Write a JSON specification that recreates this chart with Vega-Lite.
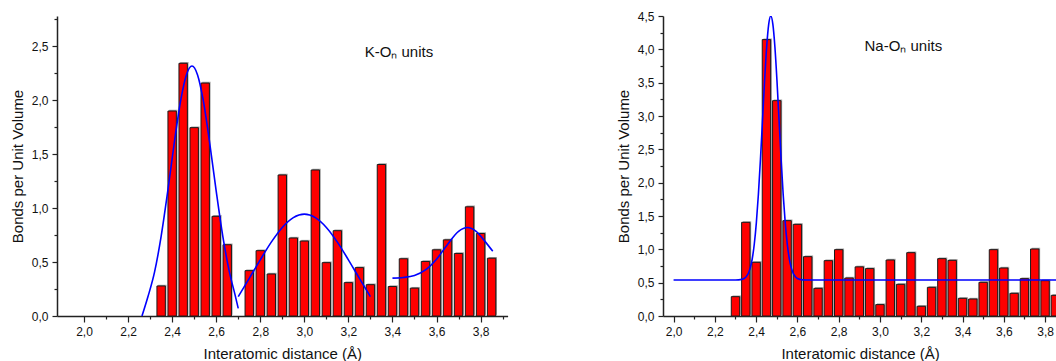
{
  "$schema": "https://vega.github.io/schema/vega-lite/v6.json",
  "autosize": {"type": "pad"},
  "padding": {"left": 10, "top": 10, "right": 0, "bottom": 0},
  "spacing": 108,
  "background": "white",
  "config": {
    "view": {"stroke": null},
    "font": "Liberation Sans",
    "axis": {
      "grid": false,
      "domainColor": "#222222",
      "domainWidth": 1.5,
      "tickColor": "#222222",
      "tickWidth": 1.2,
      "labelFont": "Liberation Sans",
      "labelFontSize": 12,
      "labelColor": "#111111",
      "labelPadding": 4,
      "labelFlush": false,
      "titleFont": "Liberation Sans",
      "titleFontSize": 15,
      "titleFontWeight": "normal",
      "titleColor": "#111111"
    }
  },
  "datasets": {
    "k_bars": [
      {"distance": 2.35, "bonds": 0.278}, {"distance": 2.40, "bonds": 1.898},
      {"distance": 2.45, "bonds": 2.34}, {"distance": 2.50, "bonds": 1.744},
      {"distance": 2.55, "bonds": 2.157}, {"distance": 2.60, "bonds": 0.923},
      {"distance": 2.65, "bonds": 0.66}, {"distance": 2.75, "bonds": 0.42},
      {"distance": 2.80, "bonds": 0.605}, {"distance": 2.85, "bonds": 0.389},
      {"distance": 2.90, "bonds": 1.306}, {"distance": 2.95, "bonds": 0.722},
      {"distance": 3.00, "bonds": 0.694}, {"distance": 3.05, "bonds": 1.352},
      {"distance": 3.10, "bonds": 0.494}, {"distance": 3.15, "bonds": 0.79},
      {"distance": 3.20, "bonds": 0.309}, {"distance": 3.25, "bonds": 0.448},
      {"distance": 3.30, "bonds": 0.29}, {"distance": 3.35, "bonds": 1.403},
      {"distance": 3.40, "bonds": 0.273}, {"distance": 3.45, "bonds": 0.53},
      {"distance": 3.50, "bonds": 0.258}, {"distance": 3.55, "bonds": 0.505},
      {"distance": 3.60, "bonds": 0.613}, {"distance": 3.65, "bonds": 0.705},
      {"distance": 3.70, "bonds": 0.579}, {"distance": 3.75, "bonds": 1.011},
      {"distance": 3.80, "bonds": 0.764}, {"distance": 3.85, "bonds": 0.535}
    ],
    "k_fit": [
      {"peak": "first", "distance": 2.263, "bonds": 0.0},
      {"peak": "first", "distance": 2.29, "bonds": 0.178},
      {"peak": "first", "distance": 2.32, "bonds": 0.406},
      {"peak": "first", "distance": 2.35, "bonds": 0.737},
      {"peak": "first", "distance": 2.38, "bonds": 1.156},
      {"peak": "first", "distance": 2.41, "bonds": 1.609},
      {"peak": "first", "distance": 2.44, "bonds": 2.01},
      {"peak": "first", "distance": 2.465, "bonds": 2.235},
      {"peak": "first", "distance": 2.49, "bonds": 2.315},
      {"peak": "first", "distance": 2.515, "bonds": 2.235},
      {"peak": "first", "distance": 2.54, "bonds": 2.01},
      {"peak": "first", "distance": 2.57, "bonds": 1.609},
      {"peak": "first", "distance": 2.60, "bonds": 1.156},
      {"peak": "first", "distance": 2.63, "bonds": 0.737},
      {"peak": "first", "distance": 2.66, "bonds": 0.406},
      {"peak": "first", "distance": 2.685, "bonds": 0.2},
      {"peak": "first", "distance": 2.70, "bonds": 0.07},
      {"peak": "second", "distance": 2.70, "bonds": 0.18},
      {"peak": "second", "distance": 2.75, "bonds": 0.349},
      {"peak": "second", "distance": 2.80, "bonds": 0.52},
      {"peak": "second", "distance": 2.85, "bonds": 0.684},
      {"peak": "second", "distance": 2.90, "bonds": 0.82},
      {"peak": "second", "distance": 2.95, "bonds": 0.911},
      {"peak": "second", "distance": 3.00, "bonds": 0.943},
      {"peak": "second", "distance": 3.05, "bonds": 0.911},
      {"peak": "second", "distance": 3.10, "bonds": 0.82},
      {"peak": "second", "distance": 3.15, "bonds": 0.684},
      {"peak": "second", "distance": 3.20, "bonds": 0.52},
      {"peak": "second", "distance": 3.25, "bonds": 0.349},
      {"peak": "second", "distance": 3.30, "bonds": 0.18},
      {"peak": "third", "distance": 3.40, "bonds": 0.351},
      {"peak": "third", "distance": 3.45, "bonds": 0.357},
      {"peak": "third", "distance": 3.50, "bonds": 0.376},
      {"peak": "third", "distance": 3.55, "bonds": 0.427},
      {"peak": "third", "distance": 3.60, "bonds": 0.526},
      {"peak": "third", "distance": 3.65, "bonds": 0.663},
      {"peak": "third", "distance": 3.70, "bonds": 0.784},
      {"peak": "third", "distance": 3.74, "bonds": 0.82},
      {"peak": "third", "distance": 3.78, "bonds": 0.784},
      {"peak": "third", "distance": 3.82, "bonds": 0.691},
      {"peak": "third", "distance": 3.855, "bonds": 0.6}
    ],
    "na_bars": [
      {"distance": 2.30, "bonds": 0.29}, {"distance": 2.35, "bonds": 1.405},
      {"distance": 2.40, "bonds": 0.805}, {"distance": 2.45, "bonds": 4.146},
      {"distance": 2.50, "bonds": 3.23}, {"distance": 2.55, "bonds": 1.43},
      {"distance": 2.60, "bonds": 1.375}, {"distance": 2.65, "bonds": 0.89},
      {"distance": 2.70, "bonds": 0.415}, {"distance": 2.75, "bonds": 0.83},
      {"distance": 2.80, "bonds": 0.995}, {"distance": 2.85, "bonds": 0.57},
      {"distance": 2.90, "bonds": 0.737}, {"distance": 2.95, "bonds": 0.711},
      {"distance": 3.00, "bonds": 0.171}, {"distance": 3.05, "bonds": 0.84},
      {"distance": 3.10, "bonds": 0.475}, {"distance": 3.15, "bonds": 0.95},
      {"distance": 3.20, "bonds": 0.146}, {"distance": 3.25, "bonds": 0.43},
      {"distance": 3.30, "bonds": 0.86}, {"distance": 3.35, "bonds": 0.835},
      {"distance": 3.40, "bonds": 0.265}, {"distance": 3.45, "bonds": 0.255},
      {"distance": 3.50, "bonds": 0.505}, {"distance": 3.55, "bonds": 0.995},
      {"distance": 3.60, "bonds": 0.72}, {"distance": 3.65, "bonds": 0.34},
      {"distance": 3.70, "bonds": 0.56}, {"distance": 3.75, "bonds": 1.005},
      {"distance": 3.80, "bonds": 0.53}, {"distance": 3.85, "bonds": 0.31}
    ],
    "na_fit": [
      {"distance": 2.00, "bonds": 0.54}, {"distance": 2.30, "bonds": 0.54},
      {"distance": 2.331, "bonds": 0.549}, {"distance": 2.351, "bonds": 0.584},
      {"distance": 2.371, "bonds": 0.714}, {"distance": 2.381, "bonds": 0.855},
      {"distance": 2.391, "bonds": 1.076}, {"distance": 2.401, "bonds": 1.397},
      {"distance": 2.411, "bonds": 1.826}, {"distance": 2.421, "bonds": 2.353},
      {"distance": 2.431, "bonds": 2.942}, {"distance": 2.441, "bonds": 3.529},
      {"distance": 2.451, "bonds": 4.035}, {"distance": 2.461, "bonds": 4.378},
      {"distance": 2.471, "bonds": 4.5}, {"distance": 2.481, "bonds": 4.378},
      {"distance": 2.491, "bonds": 4.035}, {"distance": 2.501, "bonds": 3.529},
      {"distance": 2.511, "bonds": 2.942}, {"distance": 2.521, "bonds": 2.353},
      {"distance": 2.531, "bonds": 1.826}, {"distance": 2.541, "bonds": 1.397},
      {"distance": 2.551, "bonds": 1.076}, {"distance": 2.561, "bonds": 0.855},
      {"distance": 2.571, "bonds": 0.714}, {"distance": 2.591, "bonds": 0.584},
      {"distance": 2.611, "bonds": 0.549}, {"distance": 2.64, "bonds": 0.54},
      {"distance": 3.90, "bonds": 0.54}
    ],
    "labels": [{}]
  },
  "hconcat": [
    {
      "width": 450.6,
      "height": 300,
      "resolve": {"axis": {"x": "independent", "y": "independent"}},
      "layer": [
        {
          "data": {"name": "k_bars"},
          "mark": {"type": "bar", "size": 8.4, "color": "#a3a3a3", "xOffset": 1.2, "yOffset": -1.2},
          "encoding": {
            "x": {"field": "distance", "type": "quantitative",
              "scale": {"domain": [1.9, 3.9], "nice": false, "zero": false},
              "axis": {"orient": "bottom", "values": [2.1, 2.3, 2.5, 2.7, 2.9, 3.1, 3.3, 3.5, 3.7, 3.9], "labels": false, "domain": false, "tickSize": 3, "title": null}},
            "y": {"field": "bonds", "type": "quantitative",
              "scale": {"domain": [0, 2.778], "nice": false},
              "axis": {"orient": "left", "values": [0.25, 0.75, 1.25, 1.75, 2.25, 2.75], "labels": false, "domain": false, "tickSize": 3, "title": null}}
          }
        },
        {
          "data": {"name": "k_bars"},
          "mark": {"type": "bar", "size": 8.4, "fill": "#ff0000", "stroke": "#1a1a1a", "strokeWidth": 1},
          "encoding": {
            "x": {"field": "distance", "type": "quantitative",
              "scale": {"domain": [1.9, 3.9], "nice": false, "zero": false},
              "axis": {"orient": "bottom", "values": [2.0, 2.2, 2.4, 2.6, 2.8, 3.0, 3.2, 3.4, 3.6, 3.8], "labelExpr": "replace(format(datum.value, '.1f'), '.', ',')", "tickSize": 6, "title": "Interatomic distance (Å)", "titlePadding": 9}},
            "y": {"field": "bonds", "type": "quantitative",
              "scale": {"domain": [0, 2.778], "nice": false},
              "axis": {"orient": "left", "values": [0, 0.5, 1.0, 1.5, 2.0, 2.5], "labelExpr": "replace(format(datum.value, '.1f'), '.', ',')", "tickSize": 5, "title": "Bonds per Unit Volume", "titlePadding": 6}}
          }
        },
        {
          "data": {"name": "k_fit"},
          "mark": {"type": "line", "color": "#0000ff", "strokeWidth": 1.6, "interpolate": "monotone"},
          "encoding": {
            "x": {"field": "distance", "type": "quantitative", "axis": null},
            "y": {"field": "bonds", "type": "quantitative", "axis": null},
            "detail": {"field": "peak"}
          }
        },
        {
          "data": {"name": "labels"},
          "mark": {"type": "text", "align": "left", "baseline": "alphabetic", "fontSize": 15, "font": "Liberation Sans", "color": "#111111"},
          "encoding": {
            "x": {"datum": 3.274, "type": "quantitative", "axis": null},
            "y": {"datum": 2.394, "type": "quantitative", "axis": null},
            "text": {"value": "K-Oₙ units"}
          }
        }
      ]
    },
    {
      "width": 394.3,
      "height": 300,
      "resolve": {"axis": {"x": "independent", "y": "independent"}},
      "layer": [
        {
          "data": {"name": "na_bars"},
          "mark": {"type": "bar", "size": 8.4, "color": "#a3a3a3", "xOffset": 1.2, "yOffset": -1.2, "clip": true},
          "encoding": {
            "x": {"field": "distance", "type": "quantitative",
              "scale": {"domain": [1.973, 3.835], "nice": false, "zero": false},
              "axis": {"orient": "bottom", "values": [2.1, 2.3, 2.5, 2.7, 2.9, 3.1, 3.3, 3.5, 3.7], "labels": false, "domain": false, "tickSize": 3, "title": null}},
            "y": {"field": "bonds", "type": "quantitative",
              "scale": {"domain": [0, 4.5], "nice": false},
              "axis": {"orient": "left", "values": [0.25, 0.75, 1.25, 1.75, 2.25, 2.75, 3.25, 3.75, 4.25], "labels": false, "domain": false, "tickSize": 3, "title": null}}
          }
        },
        {
          "data": {"name": "na_bars"},
          "mark": {"type": "bar", "size": 8.4, "fill": "#ff0000", "stroke": "#1a1a1a", "strokeWidth": 1, "clip": true},
          "encoding": {
            "x": {"field": "distance", "type": "quantitative",
              "scale": {"domain": [1.973, 3.835], "nice": false, "zero": false},
              "axis": {"orient": "bottom", "values": [2.0, 2.2, 2.4, 2.6, 2.8, 3.0, 3.2, 3.4, 3.6, 3.8], "labelExpr": "replace(format(datum.value, '.1f'), '.', ',')", "tickSize": 6, "title": "Interatomic distance (Å)", "titlePadding": 9}},
            "y": {"field": "bonds", "type": "quantitative",
              "scale": {"domain": [0, 4.5], "nice": false},
              "axis": {"orient": "left", "values": [0, 0.5, 1.0, 1.5, 2.0, 2.5, 3.0, 3.5, 4.0, 4.5], "labelExpr": "replace(format(datum.value, '.1f'), '.', ',')", "tickSize": 5, "title": "Bonds per Unit Volume", "titlePadding": 6}}
          }
        },
        {
          "data": {"name": "na_fit"},
          "mark": {"type": "line", "color": "#0000ff", "strokeWidth": 1.6, "interpolate": "monotone", "clip": true},
          "encoding": {
            "x": {"field": "distance", "type": "quantitative", "axis": null},
            "y": {"field": "bonds", "type": "quantitative", "axis": null}
          }
        },
        {
          "data": {"name": "labels"},
          "mark": {"type": "text", "align": "left", "baseline": "alphabetic", "fontSize": 15, "font": "Liberation Sans", "color": "#111111"},
          "encoding": {
            "x": {"datum": 2.925, "type": "quantitative", "axis": null},
            "y": {"datum": 3.975, "type": "quantitative", "axis": null},
            "text": {"value": "Na-Oₙ units"}
          }
        }
      ]
    }
  ]
}
